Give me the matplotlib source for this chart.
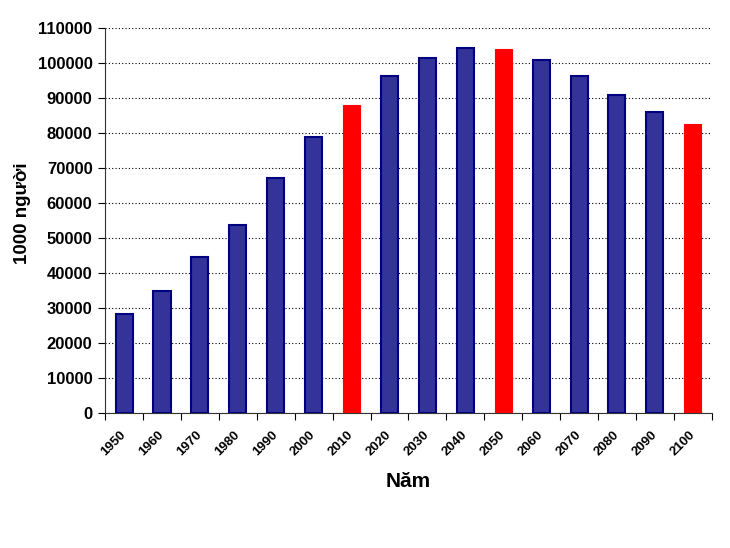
import matplotlib
matplotlib.use("Agg")
import matplotlib.pyplot as plt
import numpy as np

years = ["1950", "1960", "1970", "1980", "1990", "2000", "2010", "2020",
         "2030", "2040", "2050", "2060", "2070", "2080", "2090", "2100"]
population = [28300, 34900, 44700, 53700, 67100, 78900, 88000, 96300,
              101400, 104300, 104000, 100900, 96300, 90900, 86000, 82600]
highlight = ["2010", "2050", "2100"]

plt.rcParams['font.family'] = ['Liberation Sans', 'DejaVu Sans']
plt.rcParams['font.weight'] = 'bold'

fig = plt.figure(figsize=(7.3, 5.48), dpi=100)
ax = fig.add_axes([0.144, 0.246, 0.831, 0.703])

x = np.arange(len(years))
for xi, yr, v in zip(x, years, population):
    if yr in highlight:
        ax.bar(xi, v, width=0.45, color='#FF0000', edgecolor='#FF0000', linewidth=0.8, zorder=3)
    else:
        ax.bar(xi, v, width=0.45, color='#333399', edgecolor='#000080', linewidth=1.5, zorder=3)

ax.set_xlim(-0.5, len(years) - 0.5)
ax.set_ylim(0, 110000)
ax.set_yticks(np.arange(0, 110001, 10000))
ax.set_yticklabels([str(v) for v in range(0, 110001, 10000)], fontsize=12, fontweight='bold')
ax.yaxis.grid(True, linestyle=(0, (1, 2)), color='black', linewidth=0.8, zorder=0)
ax.set_axisbelow(True)

ax.set_xticks(x)
ax.set_xticklabels(years, rotation=45, fontsize=9.5, fontweight='bold',
                   ha='right', va='center', rotation_mode='anchor')
ax.tick_params(axis='x', length=0, pad=14)
ax.set_xticks(np.arange(-0.5, len(years), 1), minor=True)
ax.tick_params(axis='x', which='minor', length=5, direction='out', width=0.8)
ax.tick_params(axis='y', length=5, direction='out', width=0.8, pad=4)

for s in ['top', 'right']:
    ax.spines[s].set_visible(False)
for s in ['left', 'bottom']:
    ax.spines[s].set_linewidth(0.8)
    ax.spines[s].set_color('#333333')

ax.set_xlabel("Năm", fontsize=15, fontweight='bold', va='top')
ax.xaxis.set_label_coords(0.5, -0.153)
ax.set_ylabel("1000 người", fontsize=13.5, fontweight='bold', va='center')
ax.yaxis.set_label_coords(-0.137, 0.519)

fig.savefig("out.png", dpi=100)
